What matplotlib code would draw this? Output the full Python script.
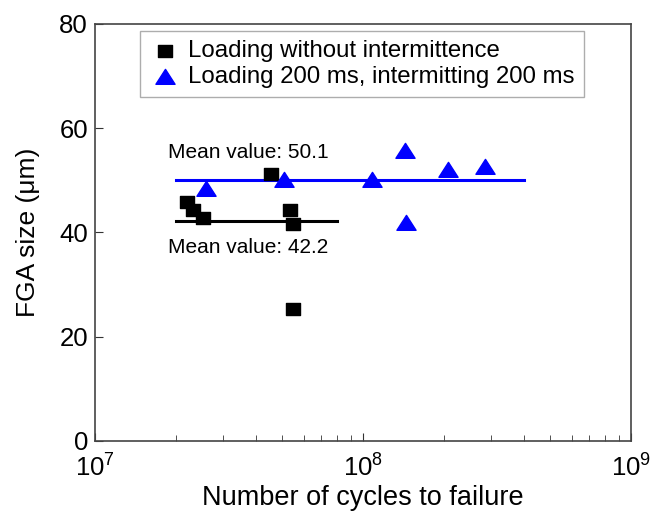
import numpy as np
import matplotlib
matplotlib.use("Agg")
import matplotlib.pyplot as plt
from matplotlib.path import Path

plt.rcParams['font.family'] = ['Liberation Sans', 'DejaVu Sans']
plt.rcParams['mathtext.fontset'] = 'custom'
plt.rcParams['mathtext.rm'] = 'Liberation Sans'
plt.rcParams['mathtext.it'] = 'Liberation Sans:italic'

# Loading without intermittence
cycles_cont = [2.2e7, 2.33e7, 2.54e7, 4.54e7, 5.35e7, 5.48e7, 5.48e7]
fga_cont = [45.9, 44.3, 42.8, 51.2, 44.3, 41.6, 25.3]

# Loading 200 ms, intermitting 200 ms
cycles_int = [2.59e7, 5.08e7, 1.085e8, 1.44e8, 1.45e8, 2.07e8, 2.86e8]
fga_int = [48.4, 50.0, 50.0, 55.7, 41.9, 51.9, 52.5]

mean_cont = 42.2
mean_int = 50.1

# slightly wide markers, like the original picture
sq = Path([(-0.59, -0.5), (0.59, -0.5), (0.59, 0.5), (-0.59, 0.5), (-0.59, -0.5)],
          [1, 2, 2, 2, 79])
tri = Path([(0, 0.5), (-0.59, -0.42), (0.59, -0.42), (0, 0.5)], [1, 2, 2, 79])

fig = plt.figure(figsize=(6.53, 5.17), dpi=100)
ax = fig.add_axes([95/653, 76/517, 536/653, 417/517])

ax.plot([2e7, 8e7], [mean_cont, mean_cont], color='black', lw=2.2)
ax.plot([2e7, 4e8], [mean_int, mean_int], color='#0000ff', lw=2.2)
ax.scatter(cycles_cont, fga_cont, marker=sq, s=90, color='black', zorder=3,
           label='Loading without intermittence')
ax.scatter(cycles_int, fga_int, marker=tri, s=190, color='#0000ff', zorder=3,
           label='Loading 200 ms, intermitting 200 ms')

ax.text(1.88e7, 54.3, 'Mean value: 50.1', fontsize=15, va='baseline')
ax.text(1.88e7, 36.1, 'Mean value: 42.2', fontsize=15, va='baseline')

ax.set_xscale('log')
ax.set_xlim(1e7, 1e9)
ax.set_ylim(0, 80)
ax.set_yticks([0, 20, 40, 60, 80])
ax.tick_params(which='both', direction='in', labelsize=18.5, color='#333333')
ax.tick_params(which='major', length=6)
ax.tick_params(which='minor', length=4)
ax.tick_params(axis='x', pad=10)
ax.tick_params(axis='y', pad=5)
for s in ax.spines.values():
    s.set_color('#444444')
    s.set_linewidth(1.2)

ax.set_xlabel('Number of cycles to failure', fontsize=19.5, labelpad=2)
ax.set_ylabel('FGA size (μm)', fontsize=19, labelpad=14)

leg = ax.legend(loc='upper left', bbox_to_anchor=(45/536, 0.984), fontsize=17.3,
                frameon=True, fancybox=False, edgecolor='#999999',
                handletextpad=0.3, borderpad=0.4, labelspacing=0.15,
                handlelength=1.3, scatterpoints=1, borderaxespad=0)
leg.get_frame().set_linewidth(1)

plt.savefig('out.png', dpi=100)
